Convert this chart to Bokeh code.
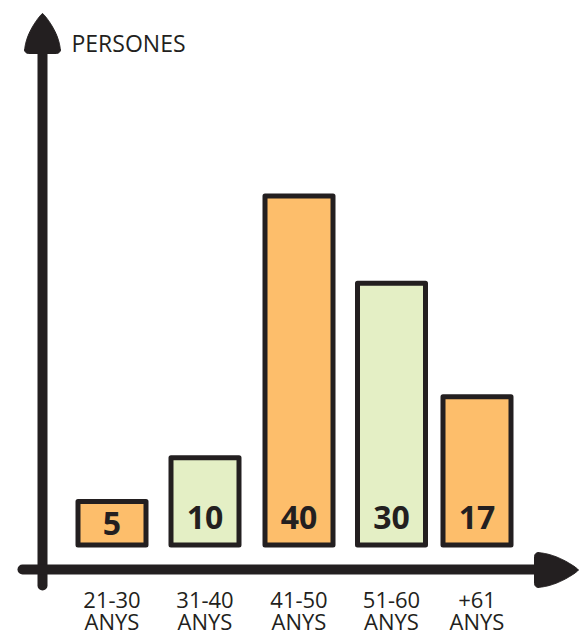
import numpy as np
from bokeh.plotting import figure
from bokeh.models import Range1d, ColumnDataSource
from bokeh.core.properties import value
from bokeh.embed import file_html
from bokeh.resources import INLINE

# ---- data ----
categories = ["21-30", "31-40", "41-50", "51-60", "+61"]
unit_label = "ANYS"
persons = [5, 10, 40, 30, 17]
y_title = "PERSONES"

# ---- layout (reference-pixel space) ----
bar_x = [111.5, 204.5, 298.5, 391.0, 476.5]
bar_colors = ["#FDBE6B", "#E4EFC5", "#FDBE6B", "#E4EFC5", "#FDBE6B"]
INK = "#231F20"

W, H = 583, 636
REF_LEFT = 0.0
REF_TOP, REF_BOTTOM = 0.0, 636.0
Y0, K = 544.5, 8.725          # ref y of value 0, ref px per person


def ry(ref_y):
    return (Y0 - np.asarray(ref_y, dtype=float)) / K


p = figure(width=W, height=H, output_backend="svg", toolbar_location=None,
           x_axis_location=None, y_axis_location=None, min_border=0,
           x_range=Range1d(REF_LEFT, REF_LEFT + W),
           y_range=Range1d(float(ry(REF_BOTTOM)), float(ry(REF_TOP))))
p.grid.visible = False
p.outline_line_color = None
p.background_fill_color = "white"

# ---- axes as arrows ----
AX_X, AX_Y = 42.0, 569.0
p.segment(x0=[AX_X], y0=[float(ry(585))], x1=[AX_X], y1=[float(ry(50))],
          line_color=INK, line_width=10, line_cap="round")
p.segment(x0=[22], y0=[float(ry(AX_Y))], x1=[537], y1=[float(ry(AX_Y))],
          line_color=INK, line_width=10, line_cap="round")


def arrow_outline(length, half):
    t = np.linspace(0, 1, 40)
    w = half * np.sin(np.pi / 2 * t) ** 0.85
    s = length * t
    a = np.linspace(0, np.pi / 2, 8)
    r = 4.0
    base_s = length - r + r * np.sin(a)
    base_w = half - r + r * np.cos(a)
    side_s = np.concatenate([s[:-3], base_s])
    side_w = np.concatenate([w[:-3], np.minimum(base_w, half)])
    S = np.concatenate([side_s, side_s[::-1]])
    Wd = np.concatenate([side_w, -side_w[::-1]])
    return S, Wd


# vertical arrow head (tip up)
S, Wd = arrow_outline(40.0, 18.0)
p.patch(x=AX_X + Wd, y=ry(13.0 + S), fill_color=INK, line_color=INK, line_width=1)
# horizontal arrow head (tip right)
S, Wd = arrow_outline(44.0, 17.5)
p.patch(x=578.0 - S, y=ry(AX_Y + 0.5 + Wd), fill_color=INK, line_color=INK, line_width=1)

# ---- bars ----
src = ColumnDataSource(dict(x=bar_x, top=persons, color=bar_colors,
                            label=[str(v) for v in persons],
                            ly=[min(v / 2.0, 3.15) for v in persons],
                            cat=categories, unit=[unit_label] * len(categories)))
p.vbar(x="x", width=68, bottom=0, top="top", source=src, fill_color="color",
       line_color=INK, line_width=5, line_join="round")

p.text(x="x", y="ly", text="label", source=src, text_align="center",
       text_baseline="middle", text_font=value("Open Sans"), text_font_style="bold",
       text_font_size="32px", text_color=INK)

# category labels
p.text(x="x", y=float(ry(599)), text="cat", source=src, text_align="center",
       text_baseline="middle", text_font=value("Open Sans"), text_font_size="22px",
       text_color=INK)
p.text(x="x", y=float(ry(620)), text="unit", source=src, text_align="center",
       text_baseline="middle", text_font=value("Open Sans"), text_font_size="22px",
       text_color=INK)

# y title
p.text(x=[71], y=[float(ry(42))], text=[y_title], text_align="left",
       text_baseline="middle", text_font=value("Open Sans"), text_font_size="23px",
       text_color=INK)

open("out.html", "w").write(file_html(p, INLINE))
